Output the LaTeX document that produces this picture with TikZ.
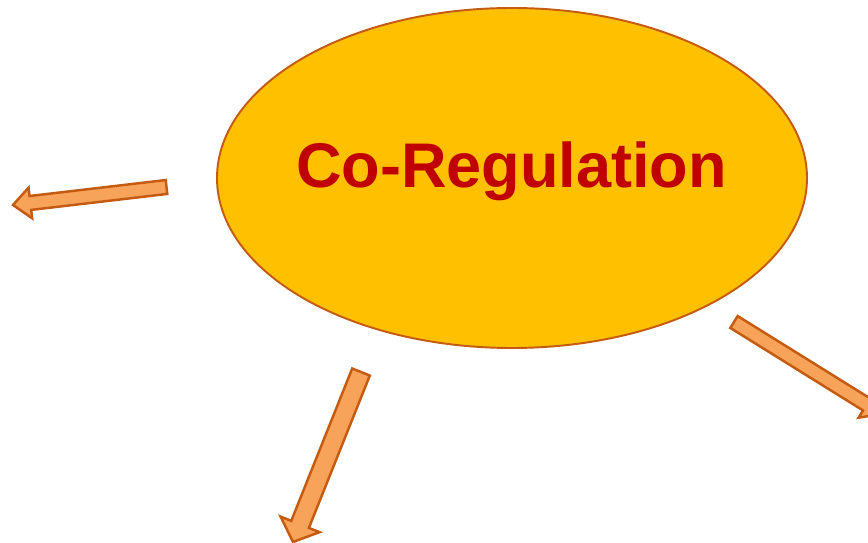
\documentclass[tikz,border=0pt]{standalone}
\usepackage{fontspec}
\setmainfont{Liberation Sans}
\usepackage{tikz}
\usetikzlibrary{calc}
\usepackage{xcolor}
\definecolor{sunyellow}{RGB}{255,192,0}
\definecolor{rimorange}{RGB}{197,90,17}
\definecolor{arroworange}{RGB}{247,163,90}
\definecolor{titlered}{RGB}{192,0,0}

% block arrow: tail, tip, half shaft, half head, head length
\newcommand{\blockarrow}[5]{%
  \coordinate (neck) at ($(#2)!#5!(#1)$);
  \draw[rimorange, line width=1.4pt, fill=arroworange, line join=miter]
    ($(#1)!#3!90:(#2)$) -- ($(neck)!#3!90:(#2)$)
    -- ($(neck)!#4!90:(#2)$) -- (#2) -- ($(neck)!#4!-90:(#2)$)
    -- ($(neck)!#3!-90:(#2)$) -- ($(#1)!#3!-90:(#2)$) -- cycle;
}

\begin{document}
\begin{tikzpicture}[x=0.02cm, y=-0.02cm, every node/.style={font=\bfseries\fontsize{35.9}{40}\selectfont}]
      \useasboundingbox (0,0) rectangle (868,543);
      \fill[sunyellow] (512,178) ellipse (295 and 170);
      \draw[rimorange, line width=1.1pt] (512,178) ellipse (295 and 170);
      \node[titlered, anchor=base, inner sep=0pt] (title) at (511.5,188) {Co-Regulation};
      % the three arrows
      \coordinate (leftTail) at (166.5,187);
      \coordinate (leftTip) at (13,205);
      \coordinate (downTail) at (361,372);
      \coordinate (downTip) at (293,542);
      \coordinate (rightTail) at (734,322);
      \coordinate (rightTip) at (882,414);
      \blockarrow{leftTail}{leftTip}{0.14cm}{0.31cm}{0.35cm}
      \blockarrow{downTail}{downTip}{0.19cm}{0.42cm}{0.38cm}
      \blockarrow{rightTail}{rightTip}{0.14cm}{0.31cm}{0.36cm}
    \end{tikzpicture}
\end{document}
